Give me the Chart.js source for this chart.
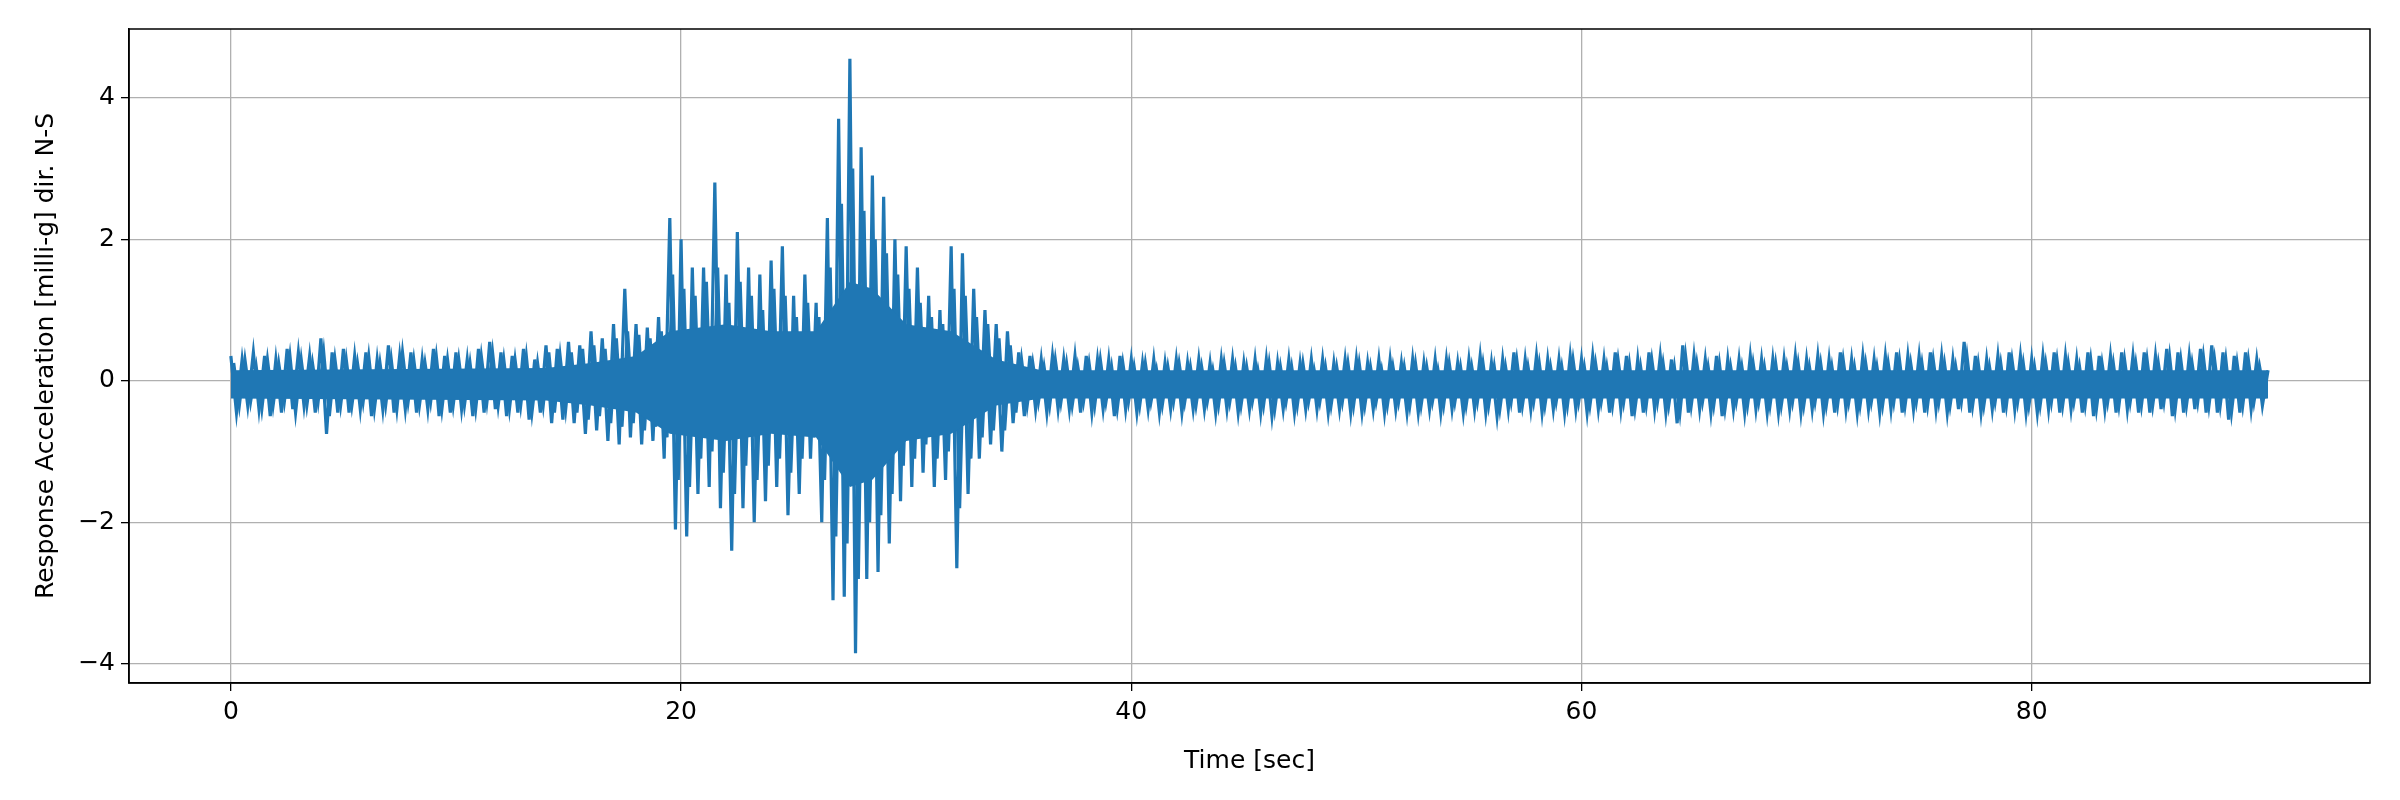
<!DOCTYPE html>
<html>
<head>
<meta charset="utf-8">
<script src="https://cdn.jsdelivr.net/npm/chart.js@4"></script>
<style>body{margin:0;background:#fff}</style>
</head>
<body>
<canvas id="canvasSinal" width="2400" height="800"></canvas>
<script>
// picos, passo de 0.5 s (0 a 90.5 s)
let passo = 0.5;
let picoSuperior = [
  0.35,0.3,0.4,0.35,0.3,0.45,0.4,0.35,0.6,0.4,
  0.45,0.35,0.4,0.3,0.5,0.35,0.4,0.3,0.45,0.35,
  0.4,0.3,0.45,0.55,0.4,0.35,0.45,0.3,0.5,0.45,
  0.55,0.5,0.7,0.6,0.8,1.3,0.8,0.75,0.9,2.3,
  2.0,1.6,1.6,2.8,1.5,2.1,1.6,1.5,1.7,1.9,
  1.2,1.5,1.1,2.3,3.7,4.55,3.3,2.9,2.6,2.0,
  1.9,1.6,1.2,1.0,1.9,1.8,1.3,1.0,0.8,0.7,
  0.4,0.35,0.3,0.35,0.3,0.35,0.35,0.3,0.3,0.35,
  0.3,0.25,0.3,0.25,0.3,0.25,0.3,0.25,0.3,0.3,
  0.25,0.3,0.3,0.25,0.3,0.25,0.3,0.3,0.25,0.3,
  0.3,0.25,0.3,0.3,0.25,0.3,0.25,0.3,0.3,0.25,
  0.3,0.35,0.25,0.3,0.4,0.3,0.35,0.3,0.3,0.35,
  0.3,0.35,0.3,0.4,0.35,0.3,0.4,0.35,0.3,0.5,
  0.35,0.3,0.35,0.3,0.3,0.35,0.3,0.3,0.3,0.35,
  0.3,0.35,0.3,0.4,0.3,0.35,0.3,0.35,0.4,0.35,
  0.35,0.4,0.35,0.3,0.55,0.35,0.3,0.35,0.4,0.35,
  0.3,0.35,0.4,0.35,0.3,0.4,0.35,0.35,0.4,0.35,
  0.4,0.35,0.45,0.4,0.35,0.45,0.5,0.4,0.35,0.4,
  0.3,0.15
];
let picoInferior = [
  -0.45,-0.35,-0.4,-0.5,-0.45,-0.4,-0.35,-0.45,-0.75,-0.45,
  -0.45,-0.4,-0.5,-0.4,-0.45,-0.4,-0.45,-0.4,-0.5,-0.45,
  -0.4,-0.5,-0.45,-0.4,-0.5,-0.45,-0.55,-0.45,-0.6,-0.55,
  -0.6,-0.75,-0.7,-0.85,-0.9,-0.8,-0.9,-0.85,-1.1,-2.1,
  -2.2,-1.6,-1.5,-1.8,-2.4,-1.8,-2.0,-1.7,-1.5,-1.9,
  -1.6,-1.1,-2.0,-3.1,-3.05,-3.85,-2.8,-2.7,-2.3,-1.7,
  -1.5,-1.3,-1.5,-1.4,-2.65,-1.6,-1.1,-0.9,-1.0,-0.6,
  -0.5,-0.4,-0.45,-0.4,-0.4,-0.45,-0.45,-0.4,-0.5,-0.4,
  -0.45,-0.4,-0.45,-0.4,-0.45,-0.4,-0.4,-0.45,-0.4,-0.45,
  -0.4,-0.45,-0.5,-0.4,-0.45,-0.4,-0.4,-0.45,-0.4,-0.45,
  -0.45,-0.4,-0.45,-0.4,-0.45,-0.45,-0.4,-0.45,-0.4,-0.45,
  -0.4,-0.45,-0.5,-0.4,-0.45,-0.4,-0.45,-0.4,-0.45,-0.4,
  -0.45,-0.4,-0.45,-0.4,-0.5,-0.45,-0.4,-0.45,-0.6,-0.45,
  -0.4,-0.45,-0.5,-0.4,-0.45,-0.4,-0.45,-0.45,-0.4,-0.45,
  -0.4,-0.45,-0.45,-0.4,-0.45,-0.4,-0.45,-0.4,-0.45,-0.4,
  -0.45,-0.4,-0.45,-0.4,-0.45,-0.45,-0.4,-0.45,-0.4,-0.45,
  -0.45,-0.4,-0.45,-0.4,-0.45,-0.5,-0.4,-0.45,-0.4,-0.45,
  -0.45,-0.4,-0.5,-0.45,-0.4,-0.45,-0.45,-0.55,-0.45,-0.4,
  -0.35,-0.25
];
// oscilações intermediárias, entre os picos (mesmo passo, deslocadas)
let medioSuperior = [
  0.25,0.3,0.2,0.3,0.25,0.35,0.3,0.25,0.4,0.3,
  0.3,0.25,0.35,0.25,0.3,0.4,0.3,0.25,0.35,0.3,
  0.3,0.25,0.35,0.4,0.3,0.3,0.35,0.25,0.4,0.35,
  0.4,0.45,0.5,0.45,0.6,0.7,0.65,0.6,0.7,1.5,
  1.3,1.2,1.4,1.6,1.1,1.4,1.2,1.0,1.3,1.2,
  0.9,1.1,0.9,1.6,2.5,3.0,2.4,2.0,1.8,1.5,
  1.3,1.1,0.9,0.8,1.3,1.2,0.9,0.8,0.6,0.5,
  0.3,0.25,0.2,0.3,0.25,0.2,0.25,0.3,0.2,0.25,
  0.2,0.25,0.15,0.2,0.25,0.2,0.2,0.15,0.25,0.2,
  0.2,0.15,0.25,0.2,0.2,0.25,0.15,0.2,0.2,0.25,
  0.25,0.2,0.15,0.2,0.2,0.25,0.2,0.15,0.25,0.2,
  0.2,0.25,0.2,0.2,0.3,0.2,0.25,0.2,0.2,0.3,
  0.2,0.25,0.2,0.3,0.25,0.2,0.3,0.25,0.2,0.35,
  0.25,0.2,0.25,0.2,0.2,0.25,0.2,0.25,0.2,0.25,
  0.2,0.25,0.2,0.3,0.2,0.25,0.2,0.25,0.3,0.25,
  0.25,0.3,0.25,0.2,0.35,0.25,0.2,0.25,0.3,0.25,
  0.2,0.25,0.3,0.25,0.2,0.3,0.25,0.25,0.3,0.25,
  0.3,0.25,0.35,0.3,0.25,0.35,0.3,0.3,0.25,0.3,
  0.2
];
let medioInferior = [
  -0.35,-0.3,-0.4,-0.35,-0.3,-0.45,-0.35,-0.3,-0.5,-0.35,
  -0.35,-0.3,-0.4,-0.35,-0.4,-0.3,-0.35,-0.3,-0.4,-0.35,
  -0.35,-0.4,-0.3,-0.35,-0.4,-0.35,-0.45,-0.35,-0.45,-0.4,
  -0.45,-0.55,-0.5,-0.6,-0.65,-0.6,-0.7,-0.65,-0.8,-1.4,
  -1.5,-1.1,-1.0,-1.3,-1.6,-1.2,-1.4,-1.2,-1.1,-1.3,
  -1.1,-0.8,-1.4,-2.2,-2.3,-2.8,-2.0,-1.9,-1.6,-1.2,
  -1.1,-0.9,-1.1,-1.0,-1.8,-1.1,-0.8,-0.7,-0.7,-0.45,
  -0.35,-0.3,-0.35,-0.3,-0.35,-0.3,-0.35,-0.3,-0.4,-0.3,
  -0.35,-0.3,-0.35,-0.3,-0.3,-0.35,-0.3,-0.35,-0.3,-0.35,
  -0.3,-0.35,-0.4,-0.3,-0.35,-0.3,-0.3,-0.35,-0.3,-0.35,
  -0.35,-0.3,-0.35,-0.3,-0.35,-0.35,-0.3,-0.35,-0.3,-0.35,
  -0.3,-0.35,-0.4,-0.3,-0.35,-0.3,-0.35,-0.3,-0.35,-0.3,
  -0.35,-0.3,-0.35,-0.3,-0.4,-0.35,-0.3,-0.35,-0.45,-0.35,
  -0.3,-0.35,-0.4,-0.3,-0.35,-0.3,-0.35,-0.35,-0.3,-0.35,
  -0.3,-0.35,-0.35,-0.3,-0.35,-0.3,-0.35,-0.3,-0.35,-0.3,
  -0.35,-0.3,-0.35,-0.3,-0.35,-0.35,-0.3,-0.35,-0.3,-0.35,
  -0.35,-0.3,-0.35,-0.3,-0.35,-0.4,-0.3,-0.35,-0.3,-0.35,
  -0.35,-0.3,-0.4,-0.35,-0.3,-0.35,-0.35,-0.45,-0.35,-0.3,
  -0.25
];
// faixa sólida central (núcleo do sinal)
let nucleoTempo = [0, 14, 16, 18, 19.5, 22, 24, 26, 27.5, 28.5, 30, 32, 34, 36, 90.5];
let nucleoSuperior = [0.15, 0.18, 0.25, 0.35, 0.7, 0.8, 0.7, 0.7, 1.4, 1.3, 0.8, 0.7, 0.3, 0.15, 0.15];
let nucleoInferior = [-0.25, -0.28, -0.35, -0.45, -0.75, -0.85, -0.75, -0.8, -1.5, -1.4, -0.85, -0.75, -0.35, -0.25, -0.25];

let ticksTempo = [0, 20, 40, 60, 80];
let ticksAceleracao = [-4, -2, 0, 2, 4];

// linhas em zigue-zague: valor superior e depois o inferior
function zigue(sup, inf, desloc) {
  let pts = [];
  sup.forEach((v, i) => {
    pts.push({ x: i * passo + desloc, y: v });
    if (i < inf.length && i * passo + desloc + passo / 2 <= 90.5) pts.push({ x: i * passo + desloc + passo / 2, y: inf[i] });
  });
  return pts;
}

let moldura = {
  id: 'moldura',
  afterDraw(c) {
    let a = c.chartArea, ctx = c.ctx;
    ctx.save();
    ctx.strokeStyle = '#000';
    ctx.lineWidth = 1.5;
    ctx.strokeRect(a.left, a.top, a.right - a.left, a.bottom - a.top);
    ctx.restore();
  }
};

let fonte = { family: 'DejaVu Sans', size: 25 };
let azul = '#1f77b4';

let ctxSinal = document.getElementById('canvasSinal').getContext('2d');
let grafSinal = new Chart(ctxSinal, {
  type: 'line',
  data: {
    datasets: [
      {
        data: nucleoTempo.map((t, i) => ({ x: t, y: nucleoSuperior[i] })),
        borderWidth: 0, pointRadius: 0, tension: 0, fill: false
      },
      {
        data: nucleoTempo.map((t, i) => ({ x: t, y: nucleoInferior[i] })),
        borderWidth: 0, pointRadius: 0, tension: 0, fill: '-1', backgroundColor: azul
      },
      {
        data: zigue(picoSuperior, picoInferior, 0),
        borderColor: azul, borderWidth: 3.2, pointRadius: 0, tension: 0, fill: false
      },
      {
        data: zigue(medioSuperior, medioInferior, 0.125),
        borderColor: azul, borderWidth: 3.2, pointRadius: 0, tension: 0, fill: false
      }
    ]
  },
  options: {
    responsive: false,
    animation: false,
    devicePixelRatio: 1,
    layout: { padding: { top: 29, right: 30, left: 27, bottom: 20 } },
    plugins: { legend: { display: false }, tooltip: { enabled: false } },
    scales: {
      x: {
        type: 'linear',
        min: -4.525, max: 95.03,
        afterBuildTicks: s => { s.ticks = ticksTempo.map(v => ({ value: v })); },
        afterFit: s => { s.height = 97; },
        grid: { color: '#b0b0b0', lineWidth: 1.3, tickColor: '#000', tickLength: 8 },
        border: { color: '#000', width: 1.5 },
        ticks: { color: '#000', font: fonte, padding: 6, maxRotation: 0 },
        title: { display: true, text: 'Time [sec]', color: '#000', font: fonte, padding: { top: 4 } }
      },
      y: {
        min: -4.27, max: 4.97,
        afterBuildTicks: s => { s.ticks = ticksAceleracao.map(v => ({ value: v })); },
        afterFit: s => { s.width = 102; },
        grid: { color: '#b0b0b0', lineWidth: 1.3, tickColor: '#000', tickLength: 8 },
        border: { color: '#000', width: 1.5 },
        ticks: { color: '#000', font: fonte, padding: 6, callback: v => String(v).replace('-', '\u2212') },
        title: { display: true, text: 'Response Acceleration [milli-g] dir. N-S', color: '#000', font: fonte, padding: { bottom: 4 } }
      }
    }
  },
  plugins: [moldura]
});
</script>
</body>
</html>
